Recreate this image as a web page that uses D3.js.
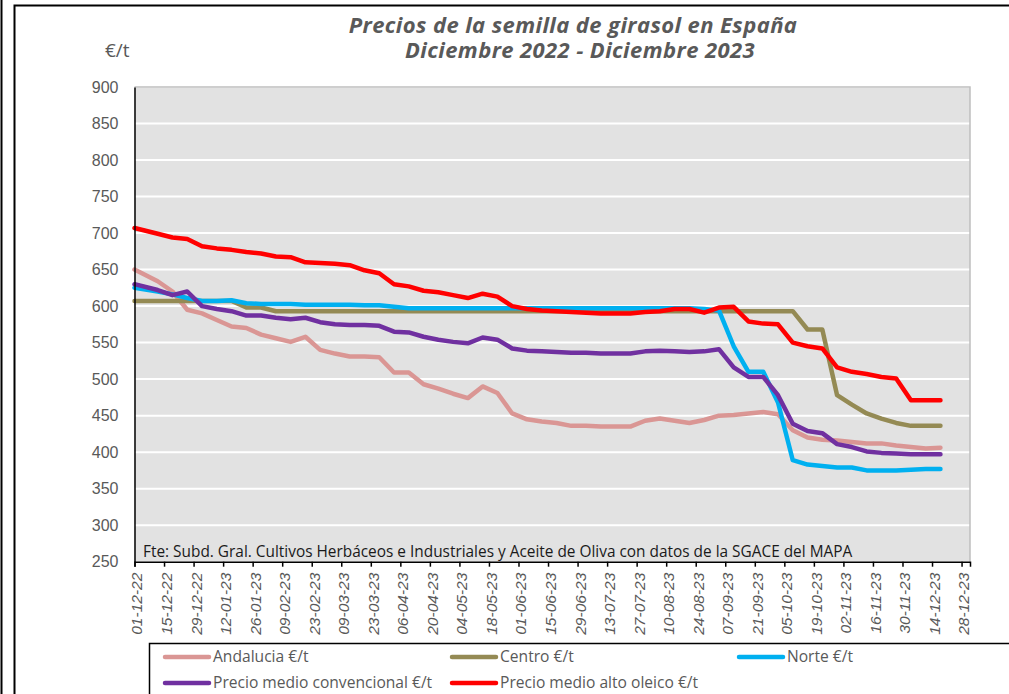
<!DOCTYPE html>
<html lang="es">

<head>
    <meta charset="UTF-8">
    <title>Precios de la semilla de girasol</title>
    <style>
        body {
            margin: 0;
            background: #fff;
        }

        svg {
            display: block;
            font-family: "Open Sans", sans-serif;
        }

        .grid line {
            stroke: #fff;
            stroke-width: 2;
        }

        .axis text {
            fill: #595959;
        }

        .series {
            fill: none;
            stroke-width: 4.5;
            stroke-linejoin: round;
            stroke-linecap: round;
        }
    </style>
</head>

<body>
    <svg class="chart"></svg>
    <script src="https://d3js.org/d3.v7.min.js"></script>
    <script>
        // first price on 01-12-22, then weekly (Mondays)
        const dates = ["01-12-22",
            "12-12-22", "19-12-22", "26-12-22",
            "02-01-23", "09-01-23", "16-01-23", "23-01-23", "30-01-23",
            "06-02-23", "13-02-23", "20-02-23", "27-02-23",
            "06-03-23", "13-03-23", "20-03-23", "27-03-23",
            "03-04-23", "10-04-23", "17-04-23", "24-04-23",
            "01-05-23", "08-05-23", "15-05-23", "22-05-23", "29-05-23",
            "05-06-23", "12-06-23", "19-06-23", "26-06-23",
            "03-07-23", "10-07-23", "17-07-23", "24-07-23", "31-07-23",
            "07-08-23", "14-08-23", "21-08-23", "28-08-23",
            "04-09-23", "11-09-23", "18-09-23", "25-09-23",
            "02-10-23", "09-10-23", "16-10-23", "23-10-23", "30-10-23",
            "06-11-23", "13-11-23", "20-11-23", "27-11-23",
            "04-12-23", "11-12-23", "18-12-23"];

        const andalucia = [650, 634, 620, 595, 590, 581, 572, 570, 561, 556, 551, 558, 540, 535, 531, 531, 530, 509, 509,
            493, 487, 480, 474, 490, 481, 453, 445, 442, 440, 436, 436, 435, 435, 435, 443, 446, 443, 440, 444, 450,
            451, 453, 455, 452, 430, 420, 417, 416, 414, 412, 412, 409, 407, 405, 406];

        const centro = [607, 607, 607, 607, 607, 607, 607, 598, 598, 593, 593, 593, 593, 593, 593, 593, 593, 593,
            593, 593, 593, 593, 593, 593, 593, 593, 593, 593, 593, 593, 593, 593, 593, 593, 593, 593, 593, 593, 593,
            593, 593, 593, 593, 593, 593, 568, 568, 478, 465, 453, 446, 440, 436, 436, 436];

        const norte = [625, 620, 616, 611, 607, 607, 608, 604, 603, 603, 603, 602, 602, 602, 602, 601, 601, 599, 597,
            597, 597, 597, 597, 597, 597, 597, 597, 597, 597, 597, 597, 597, 597, 597, 597, 597, 597, 597, 596, 594,
            545, 510, 510, 468, 389, 383, 381, 379, 379, 375, 375, 375, 376, 377, 377];

        const convencional = [630, 622, 615, 620, 600, 596, 593, 587, 587, 584, 582, 584, 578, 575, 574, 574, 573, 565,
            564, 558, 554, 551, 549, 557, 554, 542, 539, 538, 537, 536, 536, 535, 535, 535, 538, 539, 538, 537, 538,
            541, 516, 503, 503, 478, 439, 429, 426, 411, 407, 401, 399, 398, 397, 397, 397];

        const altoOleico = [707, 699, 694, 692, 682, 679, 677, 674, 672, 668, 667, 660, 659, 658, 656, 649, 645, 630,
            627, 621, 619, 615, 611, 617, 613, 600, 596, 594, 593, 592, 591, 590, 590, 590, 592, 593, 596, 596, 591,
            598, 599, 579, 576, 575, 550, 545, 542, 516, 510, 507, 503, 501, 471, 471, 471];

        const seriesNames = ["Andalucia €/t", "Centro €/t", "Norte €/t",
            "Precio medio convencional €/t", "Precio medio alto oleico €/t"];
        const seriesValues = [andalucia, centro, norte, convencional, altoOleico];
        const seriesColors = ["#da9694", "#948a54", "#00b0f0", "#7030a0", "#ff0000"];

        const yTicks = [250, 300, 350, 400, 450, 500, 550, 600, 650, 700, 750, 800, 850, 900];

        let width = 1009, height = 694;
        let plot = { left: 134.5, right: 970, top: 87, bottom: 561.7 };

        let parse = d3.timeParse("%d-%m-%y");
        let fmt = d3.timeFormat("%d-%m-%y");
        let parsedDates = dates.map(parse);

        let x = d3.scaleTime()
            .domain([parse("01-12-22"), parse("01-01-24")])
            .range([plot.left, plot.right]);

        let y = d3.scaleLinear()
            .domain([250, 900])
            .range([plot.bottom, plot.top]);

        let xTicks = d3.timeDay.every(1).range(parse("01-12-22"), parse("29-12-23"))
            .filter((d, i) => i % 14 === 0);

        let svg = d3.select(".chart")
            .attr("width", width)
            .attr("height", height);

        // frame lines
        svg.append("line")
            .attr("x1", 1.5).attr("x2", 1.5).attr("y1", 0).attr("y2", height)
            .attr("stroke", "#000").attr("stroke-width", 2);
        svg.append("path")
            .attr("d", `M14.5,${height}V5.5H${width}`)
            .attr("fill", "none").attr("stroke", "#000").attr("stroke-width", 2);

        // plot area
        svg.append("rect")
            .attr("x", plot.left).attr("y", plot.top)
            .attr("width", plot.right - plot.left).attr("height", plot.bottom - plot.top)
            .attr("fill", "#e2e2e2");

        svg.append("g")
            .attr("class", "grid")
            .selectAll("line")
            .data(yTicks.filter(d => d > 250))
            .enter().append("line")
            .attr("x1", plot.left).attr("x2", plot.right)
            .attr("y1", d => y(d)).attr("y2", d => y(d));

        svg.append("path")
            .attr("d", `M${plot.left},${plot.top}H${plot.right}V${plot.bottom}`)
            .attr("fill", "none").attr("stroke", "#bfbfbf").attr("stroke-width", 1.5);

        // source note
        svg.append("text")
            .attr("x", 143)
            .attr("y", 556.5)
            .attr("font-size", "15.4px")
            .attr("fill", "#1a1a1a")
            .text("Fte: Subd. Gral. Cultivos Herbáceos e Industriales y Aceite de Oliva con datos de la SGACE del MAPA");

        // lines
        let line = d3.line()
            .x((d, i) => x(parsedDates[i]))
            .y(d => y(d));

        svg.selectAll(".series")
            .data(seriesValues)
            .enter().append("path")
            .attr("class", "series")
            .attr("stroke", (d, i) => seriesColors[i])
            .attr("d", d => line(d));

        // y axis
        let yAxis = d3.axisLeft(y).tickValues(yTicks).tickSize(0).tickPadding(16);
        let gy = svg.append("g")
            .attr("class", "axis")
            .attr("transform", `translate(${plot.left},0)`)
            .call(yAxis);
        gy.select(".domain").attr("stroke", "#000").attr("stroke-width", 1.5);
        gy.selectAll(".tick text").attr("font-size", "16px");

        // x axis
        let xAxis = d3.axisBottom(x).tickValues(xTicks).tickSize(5).tickFormat(fmt);
        let gx = svg.append("g")
            .attr("class", "axis")
            .attr("transform", `translate(0,${plot.bottom})`)
            .call(xAxis);
        gx.select(".domain").attr("stroke", "#000").attr("stroke-width", 1.5);
        gx.selectAll(".tick line").attr("stroke", "#000").attr("stroke-width", 1.5);
        gx.selectAll(".tick text")
            .attr("transform", "rotate(-90)")
            .attr("x", -11)
            .attr("y", 2)
            .attr("dy", "0.35em")
            .attr("font-size", "15.5px")
            .style("text-anchor", "end")
            .style("font-style", "italic");

        // titles
        svg.append("text")
            .attr("x", 573).attr("y", 33)
            .attr("class", "title")
            .text("Precios de la semilla de girasol en España");
        svg.append("text")
            .attr("x", 580).attr("y", 58)
            .attr("class", "title")
            .text("Diciembre 2022 - Diciembre 2023");
        svg.selectAll(".title")
            .attr("text-anchor", "middle")
            .attr("font-size", "22px")
            .attr("letter-spacing", "0.4px")
            .attr("font-weight", "bold")
            .attr("font-style", "italic")
            .attr("fill", "#595959");

        svg.append("text")
            .attr("x", 105)
            .attr("y", 57)
            .attr("font-size", "19px")
            .attr("fill", "#595959")
            .text("€/t");

        // legend
        svg.append("rect")
            .attr("x", 149.5).attr("y", 643.5)
            .attr("width", width).attr("height", 100)
            .attr("fill", "#fff").attr("stroke", "#000").attr("stroke-width", 1.5);

        let legendPos = [[165, 657], [452, 657], [739, 657], [165, 683], [452, 683]];

        let item = svg.selectAll(".legend-item")
            .data(seriesNames)
            .enter().append("g")
            .attr("class", "legend-item")
            .attr("transform", (d, i) => `translate(${legendPos[i][0]},${legendPos[i][1]})`);

        item.append("line")
            .attr("x1", 0).attr("x2", 44)
            .attr("stroke", (d, i) => seriesColors[i])
            .attr("stroke-width", 4.5)
            .attr("stroke-linecap", "round");

        item.append("text")
            .attr("x", 48)
            .attr("dy", "0.35em")
            .attr("font-size", "15.6px")
            .attr("fill", "#595959")
            .text(d => d);
    </script>
</body>

</html>
